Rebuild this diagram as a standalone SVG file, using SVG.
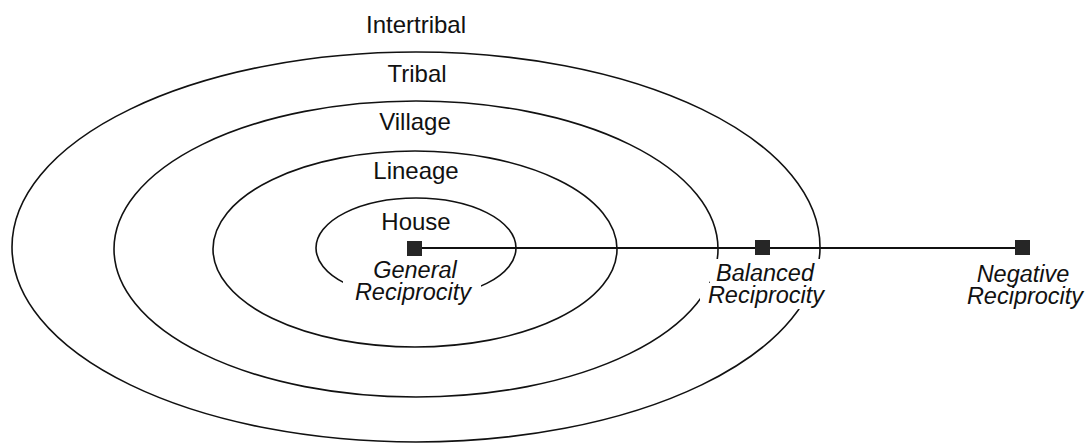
<svg xmlns="http://www.w3.org/2000/svg" width="1090" height="443" viewBox="0 0 1090 443">
  <style>
    .ring { fill: none; stroke: #111; stroke-width: 1.6; }
    .lbl { font-family: "Liberation Sans", Arial, sans-serif; font-size: 24px; fill: #111; text-anchor: middle; }
    .it { font-family: "Liberation Sans", Arial, sans-serif; font-size: 23.5px; font-style: italic; fill: #111; text-anchor: middle; }
    .mask { fill: #fff; }
    .pt { fill: #262626; }
    .link { stroke: #111; stroke-width: 1.8; fill: none; }
  </style>
  <rect width="1090" height="443" fill="#fff"/>

  <!-- Concentric social-distance rings -->
  <g id="intertribal">
    <text class="lbl" x="416" y="33">Intertribal</text>
  </g>
  <g id="tribal">
    <ellipse class="ring" cx="416" cy="247" rx="404" ry="195"/>
    <text class="lbl" x="417" y="82">Tribal</text>
  </g>
  <g id="village">
    <ellipse class="ring" cx="416" cy="249" rx="302" ry="148"/>
    <text class="lbl" x="415" y="130">Village</text>
  </g>
  <g id="lineage">
    <ellipse class="ring" cx="415" cy="249" rx="202" ry="98"/>
    <text class="lbl" x="416" y="179">Lineage</text>
  </g>
  <g id="house">
    <ellipse class="ring" cx="416" cy="248" rx="100" ry="50"/>
    <text class="lbl" x="416" y="230">House</text>
  </g>

  <!-- Reciprocity continuum -->
  <g id="connectors">
    <line class="link" x1="422" y1="248" x2="1016" y2="248"/>
  </g>

  <g id="general">
    <rect class="pt" x="407" y="241" width="15" height="15"/>
    <rect class="mask" x="368" y="259" width="92" height="22"/>
    <rect class="mask" x="343" y="281" width="138" height="24"/>
    <text class="it" x="415" y="278">General</text>
    <text class="it" x="413" y="300">Reciprocity</text>
  </g>
  <g id="balanced">
    <rect class="pt" x="755" y="240" width="15" height="15" fill="#111"/>
    <rect class="mask" x="710" y="259" width="110" height="24"/>
    <rect class="mask" x="700" y="283" width="132" height="26"/>
    <text class="it" x="765" y="281">Balanced</text>
    <text class="it" x="766" y="303">Reciprocity</text>
  </g>
  <g id="negative">
    <rect class="pt" x="1015" y="240" width="15" height="15"/>
    <text class="it" x="1023" y="282">Negative</text>
    <text class="it" x="1025" y="304">Reciprocity</text>
  </g>
</svg>
